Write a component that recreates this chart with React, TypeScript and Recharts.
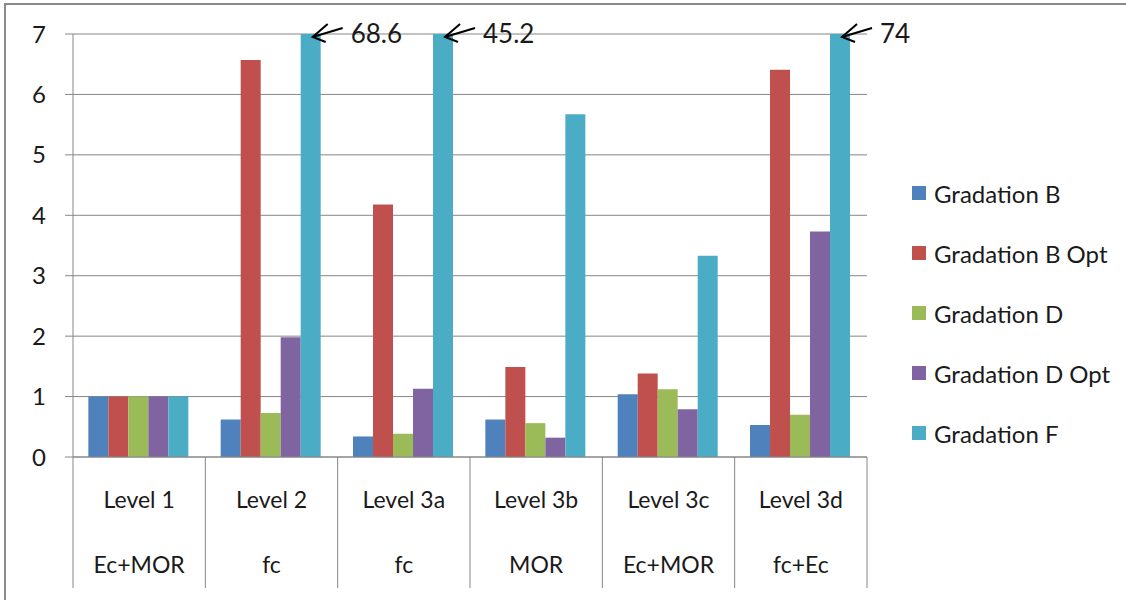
import React from 'react';
import { BarChart, Bar, XAxis, YAxis, CartesianGrid, Legend, LabelList } from 'recharts';

const categories = ['Level 1', 'Level 2', 'Level 3a', 'Level 3b', 'Level 3c', 'Level 3d'];
const subLabels = ['Ec+MOR', 'fc', 'fc', 'MOR', 'Ec+MOR', 'fc+Ec'];
const gradB = [1, 0.62, 0.34, 0.62, 1.04, 0.53];
const gradBOpt = [1, 6.57, 4.18, 1.49, 1.38, 6.41];
const gradD = [1, 0.73, 0.385, 0.56, 1.12, 0.7];
const gradDOpt = [1, 1.98, 1.13, 0.32, 0.79, 3.73];
const gradF = [1, 68.6, 45.2, 5.67, 3.33, 74];
const yTicks = [0, 1, 2, 3, 4, 5, 6, 7];

const seriesNames = ['Gradation B', 'Gradation B Opt', 'Gradation D', 'Gradation D Opt', 'Gradation F'];
const seriesColors = ['#4F81BD', '#C0504D', '#9BBB59', '#8064A2', '#4BACC6'];

const data = categories.map((c, i) => ({
  level: c,
  sub: subLabels[i],
  b: gradB[i],
  bOpt: gradBOpt[i],
  d: gradD[i],
  dOpt: gradDOpt[i],
  f: gradF[i],
}));
const keys = ['b', 'bOpt', 'd', 'dOpt', 'f'];

const FONT = 'Lato, "Open Sans", sans-serif';
const TEXT = '#1a1a1a';
const GRID = '#868686';
const MARGIN = { top: 34, right: 259, bottom: 12, left: 0 };
const Y_MAX = yTicks[yTicks.length - 1];

const XTick = (props: any) => {
  const { x, y, payload, index } = props;
  const half = payload && typeof payload.offset === 'number' && payload.offset > 0 ? payload.offset : 66.15;
  const i = typeof index === 'number' ? index : categories.indexOf(payload.value);
  return (
    <g>
      <line x1={x - half} x2={x - half} y1={y} y2={y + 131} stroke={GRID} strokeWidth={1} />
      {i === categories.length - 1 && (
        <line x1={x + half} x2={x + half} y1={y} y2={y + 131} stroke={GRID} strokeWidth={1} />
      )}
      <text x={x} y={y + 51} textAnchor="middle" fontSize={23} fill={TEXT} fontFamily={FONT}>
        {payload.value}
      </text>
      <text x={x} y={y + 116} textAnchor="middle" fontSize={23} fill={TEXT} fontFamily={FONT}>
        {subLabels[i]}
      </text>
    </g>
  );
};

const OverflowLabel = (props: any) => {
  const { x, y, width, value } = props;
  if (value == null || Number(value) <= Y_MAX) return null;
  const tx = x + width / 2 + 2;
  const ty = Math.max(y, MARGIN.top) + 3;
  return (
    <g>
      <line x1={tx} y1={ty} x2={tx + 30} y2={ty - 9} stroke="#000" strokeWidth={2} />
      <polyline
        points={`${tx + 15},${ty - 13} ${tx},${ty} ${tx + 13},${ty + 5}`}
        fill="none"
        stroke="#000"
        strokeWidth={2}
      />
      <text x={tx + 38} y={ty + 6} fontSize={26} fill={TEXT} fontFamily={FONT}>
        {value}
      </text>
    </g>
  );
};

const renderLegend = (props: any) => {
  const payload = props.payload || [];
  return (
    <div style={{ fontFamily: FONT }}>
      {payload.map((p: any, i: number) => (
        <div key={i} style={{ height: 60, display: 'flex', alignItems: 'center' }}>
          <span
            style={{
              display: 'inline-block',
              width: 14,
              height: 14,
              background: p.color,
              marginRight: 8,
            }}
          />
          <span style={{ fontSize: 24, color: TEXT }}>{p.value}</span>
        </div>
      ))}
    </div>
  );
};

export default function App() {
  return (
    <div style={{ position: 'absolute', left: 0, top: 0, width: 1126, height: 600, background: '#fff', overflow: 'hidden' }}>
      <div
        style={{
          position: 'absolute',
          left: 4,
          top: 3,
          width: 1130,
          height: 610,
          borderTop: '2.5px solid #8a8a8a',
          borderLeft: '2.5px solid #8a8a8a',
          boxSizing: 'border-box',
        }}
      />
      <div style={{ position: 'absolute', left: 0, top: 0 }}>
        <BarChart
          width={1126}
          height={600}
          data={data}
          margin={MARGIN}
          barCategoryGap="11.6%"
          barGap={0}
        >
          <CartesianGrid horizontal vertical={false} stroke={GRID} strokeDasharray="" />
          <XAxis
            dataKey="level"
            height={131}
            tickSize={0}
            tickMargin={0}
            tickLine={false}
            axisLine={{ stroke: GRID }}
            interval={0}
            tick={<XTick />}
          />
          <YAxis
            width={73}
            domain={[0, Y_MAX]}
            ticks={yTicks}
            allowDataOverflow
            tickSize={8}
            tickMargin={19}
            tickLine={{ stroke: GRID }}
            axisLine={{ stroke: GRID }}
            tick={{ fontSize: 24, fill: TEXT, fontFamily: FONT }}
          />
          <Legend
            layout="horizontal"
            verticalAlign="middle"
            align="center"
            content={renderLegend}
            wrapperStyle={{ position: 'absolute', left: 912, top: 163, width: 214 }}
          />
          {keys.map((k, i) => (
            <Bar key={k} dataKey={k} name={seriesNames[i]} fill={seriesColors[i]} isAnimationActive={false}>
              {k === 'f' && <LabelList dataKey="f" content={<OverflowLabel />} />}
            </Bar>
          ))}
        </BarChart>
      </div>
    </div>
  );
}
